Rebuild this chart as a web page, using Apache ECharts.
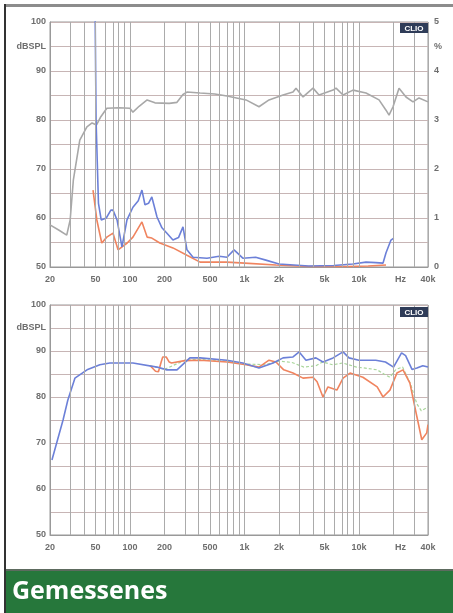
<!DOCTYPE html>
<html><head><meta charset="utf-8">
<script src="https://cdn.jsdelivr.net/npm/echarts@6/dist/echarts.min.js"></script>
<style>html,body{margin:0;padding:0;background:#fff;overflow:hidden}#c{width:453px;height:613px}</style>
</head><body><div id="c"></div>
<script>
// ---- axis ticks ----
const freqTicks = [20, 50, 100, 200, 500, 1000, 2000, 5000, 10000, 23000, 40000];
const freqTickLabels = ['20', '50', '100', '200', '500', '1k', '2k', '5k', '10k', 'Hz', '40k'];
const gridFreqs = [20,30,40,50,60,70,80,90,100,200,300,400,500,600,700,800,900,1000,2000,3000,4000,5000,6000,7000,8000,9000,10000,20000,30000,40000];

// ---- top chart: frequency response (dB) ----
const topResponse = [[20,58.6],[24,57.5],[28,56.5],[30,59.6],[32,67.8],[36.4,75.9],[42,78.6],[46.6,79.4],[51,79.0],[55,80.5],[62.7,82.4],[80,82.5],[99.7,82.4],[106,81.6],[120,82.8],[141,84.1],[165,83.5],[220,83.4],[257,83.6],[290,85.2],[314,85.7],[409,85.5],[550,85.3],[702,84.9],[1030,84.1],[1337,82.7],[1636,84.1],[2168,85.1],[2650,85.7],[2814,86.5],[3243,84.7],[3963,86.5],[4470,85.1],[5927,86.1],[6294,86.5],[7247,85.1],[8854,86.1],[11500,85.5],[14940,84.1],[17200,82.0],[18270,81.0],[19800,82.7],[22340,86.5],[25700,84.7],[29600,83.7],[33400,84.5],[40000,83.7]];
// ---- top chart: distortion (%) ----
const topK2 = [[48,9],[50.5,3],[53,1.3],[56,0.96],[62,1.0],[68,1.16],[71,1.16],[77,0.96],[85,0.41],[94,0.96],[106,1.22],[118,1.35],[127,1.57],[135,1.27],[145,1.3],[155,1.43],[172,1.02],[190,0.8],[210,0.69],[237,0.55],[265,0.6],[290,0.82],[314,0.35],[355,0.2],[470,0.18],[600,0.22],[702,0.2],[810,0.35],[966,0.18],[1250,0.2],[1534,0.14],[2000,0.06],[3630,0.02],[6000,0.03],[8820,0.06],[11500,0.1],[14000,0.09],[16200,0.08],[17200,0.29],[19000,0.55],[20100,0.59]];
const topK3 = [[47.5,1.57],[51.3,0.96],[56.6,0.49],[62.7,0.61],[71,0.69],[78.6,0.35],[94.4,0.49],[106,0.61],[127,0.92],[141,0.61],[155,0.59],[182,0.49],[237,0.39],[314,0.24],[409,0.1],[702,0.1],[1000,0.08],[1880,0.04],[3630,0.01],[8000,0.01],[12000,0.02],[17200,0.04]];

// ---- bottom chart: responses (dB) ----
const botAxis = [[20.8,66.3],[26,75.0],[28.6,79.3],[33,84.1],[42.1,85.9],[54.5,87.0],[66.6,87.4],[106,87.4],[172,86.5],[210,85.9],[257,85.9],[333,88.5],[409,88.5],[702,88.0],[966,87.4],[1337,86.3],[1775,87.4],[2168,88.5],[2650,88.7],[3000,89.8],[3440,88.0],[4200,88.5],[4840,87.6],[5930,88.5],[7250,89.8],[8170,88.5],[9960,88.0],[14000,88.0],[17000,87.6],[20000,86.5],[23500,89.6],[25500,89.0],[29000,86.0],[32000,86.3],[36000,86.8],[40000,86.5]];
const botOff30 = [[150,86.8],[167,85.6],[177,85.5],[187,87.6],[193,88.7],[207,88.7],[220,87.6],[230,87.4],[300,87.9],[409,88.0],[702,87.6],[1030,87.0],[1337,86.5],[1636,88.0],[1880,87.6],[2200,85.9],[2650,85.2],[3240,84.1],[3960,84.3],[4300,83.3],[4840,80.0],[5350,82.2],[6400,81.5],[7250,84.1],[8340,85.2],[10800,84.3],[14400,82.2],[16200,80.0],[18600,81.5],[21400,85.2],[24200,85.9],[27800,83.0],[32000,75.7],[35300,70.7],[39000,72.2],[40000,74.0]];
const botOff15 = [[150,86.8],[200,86.0],[300,88.0],[400,88.2],[700,87.8],[1000,87.2],[1500,87.0],[2000,87.8],[2600,87.5],[3300,86.5],[4200,86.8],[4800,87.6],[5900,87.0],[7200,87.4],[9500,86.5],[12000,86.2],[14400,85.9],[16500,85.0],[18600,84.3],[21000,86.0],[24000,86.5],[28000,83.0],[32000,78.5],[35000,77.0],[40000,77.8]];

const lg = f => Math.log10(f);
const toXY = arr => arr.map(p => [lg(p[0]), p[1]]);
const tickLogs = freqTicks.map(lg);
function freqLabel(v) {
  let best = 0, bd = 1e9;
  tickLogs.forEach((t, i) => { const d = Math.abs(t - v); if (d < bd) { bd = d; best = i; } });
  return freqTickLabels[best];
}
const labelFont = { fontSize: 9, fontWeight: 'bold', color: '#6e6e6e', fontFamily: 'Liberation Sans, Arial, sans-serif' };

function xAxisDef(gridIndex) {
  return {
    type: 'value', gridIndex, min: lg(20), max: lg(40000),
    axisLine: { show: true, lineStyle: { color: '#999', width: 1 } },
    axisTick: { show: false },
    splitLine: { show: false },
    axisLabel: Object.assign({ customValues: tickLogs, formatter: freqLabel, margin: 8, showMinLabel: true, showMaxLabel: true }, labelFont)
  };
}
function yLeftDef(gridIndex) {
  return {
    type: 'value', gridIndex, min: 50, max: 100, interval: 5, position: 'left',
    axisLine: { show: true, lineStyle: { color: '#999' } },
    axisTick: { show: false },
    splitLine: { show: true, lineStyle: { color: '#c7b5b5', width: 1 } },
    axisLabel: Object.assign({ margin: 4, formatter: v => v === 95 ? 'dBSPL' : (v % 10 === 0 ? String(v) : '') }, labelFont)
  };
}
function gridLines(xi, yi) {
  return {
    type: 'line', xAxisIndex: xi, yAxisIndex: yi, data: [[lg(20), 50]], symbol: 'none', silent: true,
    lineStyle: { opacity: 0 }, z: 1,
    markLine: {
      silent: true, symbol: ['none', 'none'], animation: false, label: { show: false },
      lineStyle: { color: '#ababab', width: 1, type: 'solid' },
      data: gridFreqs.map(f => ({ xAxis: lg(f) }))
    }
  };
}
function lineSeries(data, xi, yi, color, extra) {
  return Object.assign({
    type: 'line', xAxisIndex: xi, yAxisIndex: yi, data: toXY(data), symbol: 'none', silent: true,
    animation: false, z: 3, lineStyle: { color, width: 1.6 }
  }, extra || {});
}

const chart = echarts.init(document.getElementById('c'), null, { renderer: 'canvas' });
chart.setOption({
  animation: false,
  backgroundColor: '#fff',
  grid: [
    { left: 50, top: 22, width: 378, height: 245, show: true, borderColor: '#999', borderWidth: 1, backgroundColor: '#fff' },
    { left: 50, top: 305, width: 378, height: 230, show: true, borderColor: '#999', borderWidth: 1, backgroundColor: '#fff' }
  ],
  xAxis: [xAxisDef(0), xAxisDef(1)],
  yAxis: [
    yLeftDef(0),
    { type: 'value', gridIndex: 0, min: 0, max: 5, interval: 0.5, position: 'right',
      axisLine: { show: false }, axisTick: { show: false }, splitLine: { show: false },
      axisLabel: Object.assign({ margin: 6, formatter: v => v === 4.5 ? '%' : (Math.abs(v - Math.round(v)) < 1e-6 ? String(Math.round(v)) : '') }, labelFont) },
    yLeftDef(1)
  ],
  series: [
    gridLines(0, 0),
    gridLines(1, 2),
    lineSeries(topResponse, 0, 0, '#a8a8a8'),
    lineSeries(topK3, 0, 1, '#f0845f'),
    lineSeries(topK2, 0, 1, '#6c80d8'),
    lineSeries(botOff15, 1, 2, '#a9d69b', { lineStyle: { color: '#a9d69b', width: 1.2, type: [3, 2] } }),
    lineSeries(botOff30, 1, 2, '#f0845f'),
    lineSeries(botAxis, 1, 2, '#6c80d8', { z: 4 })
  ],
  graphic: [
    { type: 'rect', shape: { x: 5, y: 4, width: 448, height: 3 }, style: { fill: '#8c8c8c' }, silent: true },
    { type: 'rect', shape: { x: 4, y: 4, width: 2, height: 609 }, style: { fill: '#333' }, silent: true },
    { type: 'rect', shape: { x: 6, y: 569, width: 447, height: 2 }, style: { fill: '#5d6b5f' }, silent: true },
    { type: 'rect', shape: { x: 6, y: 571, width: 447, height: 42 }, style: { fill: '#26773b' }, silent: true },
    { type: 'text', x: 12, y: 592, style: { text: 'Gemessenes', fill: '#fff', font: 'bold 25px "Open Sans", sans-serif', verticalAlign: 'middle' }, silent: true },
    { type: 'rect', shape: { x: 400, y: 23, width: 28, height: 10 }, style: { fill: '#2f3c58' }, silent: true, z: 10 },
    { type: 'text', x: 414, y: 28.5, style: { text: 'CLIO', fill: '#fff', font: 'bold 8px "Liberation Sans", sans-serif', align: 'center', verticalAlign: 'middle' }, silent: true, z: 11 },
    { type: 'rect', shape: { x: 400, y: 307, width: 28, height: 10 }, style: { fill: '#2f3c58' }, silent: true, z: 10 },
    { type: 'text', x: 414, y: 312.5, style: { text: 'CLIO', fill: '#fff', font: 'bold 8px "Liberation Sans", sans-serif', align: 'center', verticalAlign: 'middle' }, silent: true, z: 11 }
  ]
});
</script>
</body></html>
